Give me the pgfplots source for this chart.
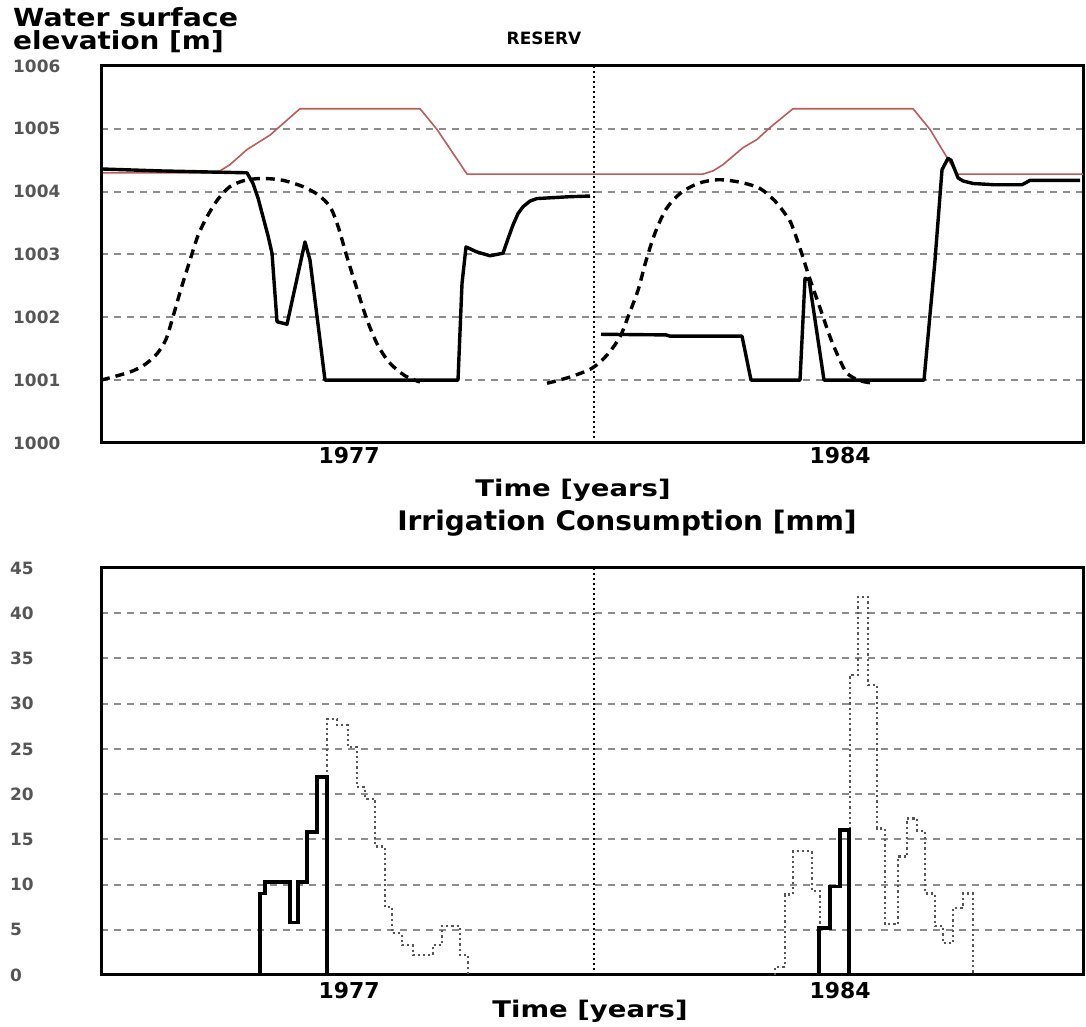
\documentclass[border=0pt]{standalone}
\usepackage{fontspec}
\setmainfont{DejaVu Sans}
\usepackage{graphicx}
\usepackage{pgfplots}
\pgfplotsset{compat=1.18}
\definecolor{resred}{RGB}{190,90,90}
\definecolor{ticklab}{RGB}{85,85,85}
\definecolor{dotgray}{RGB}{85,85,85}

\pgfplotsset{
  myaxis/.style={
    scale only axis, anchor=south west,
    xmin=101, xmax=1083,
    axis line style={line width=3bp, black},
    xtick={349,840}, xticklabels={1977,1984},
    major tick length=0pt,
    ymajorgrids,
    major grid style={black!45, line width=2bp, dash pattern=on 7bp off 6bp},
    xticklabel style={font=\fontsize{22}{22}\selectfont\bfseries, anchor=north, inner sep=0pt, yshift=-4bp},
    yticklabel style={font=\fontsize{17}{17}\selectfont\bfseries, text=ticklab, anchor=west, inner sep=0pt},
    no markers,
  }
}

\begin{document}
\begin{tikzpicture}[x=1bp,y=1bp]
\path (0,0) rectangle (1086,1027);

% ---------------- top axis ----------------
\begin{axis}[myaxis,
  at={(101bp,584bp)}, width=982bp, height=377bp,
  ymin=1000, ymax=1006,
  ytick={1000,1001,1002,1003,1004,1005,1006},
  yticklabels={1000,1001,1002,1003,1004,1005,1006},
  yticklabel style={xshift=-88bp},
]
\addplot[black, line width=2bp, dash pattern=on 2bp off 3bp] coordinates {(594,1000) (594,1006)};
% red line
\addplot[resred, line width=1.6bp] coordinates {
(103,1004.30) (217,1004.30) (230,1004.43) (247,1004.67) (260,1004.80) (270,1004.90)
(280,1005.04) (300,1005.32) (420,1005.32) (437,1004.99) (467,1004.28) (703,1004.28)
(713,1004.33) (723,1004.43) (743,1004.70) (757,1004.83) (770,1005.02) (793,1005.32)
(913,1005.32) (930,1004.99) (957,1004.28) (1083,1004.28)};
% black solid 1977
\addplot[black, line width=3.4bp, line join=round] coordinates {
(103,1004.36) (160,1004.33) (247,1004.30) (253,1004.13) (258,1003.90) (263,1003.60)
(268,1003.30) (272,1003.02) (277,1001.93) (287,1001.89) (305,1003.20) (310,1002.91)
(325,1001.0) (458,1001.0) (462,1002.54) (466,1003.12) (477,1003.04) (490,1002.98)
(503,1003.02) (508,1003.25) (513,1003.47) (518,1003.65) (523,1003.76) (530,1003.85)
(537,1003.89) (570,1003.92) (590,1003.93)};
% black solid 1984
\addplot[black, line width=3.4bp, line join=round] coordinates {
(601,1001.73) (666,1001.72) (670,1001.70) (742,1001.70) (751,1001.0) (800,1001.0)
(805,1002.62) (809,1002.60) (824,1001.0) (924,1001.0) (935,1002.91) (942,1004.35)
(948,1004.53) (951,1004.50) (958,1004.22) (963,1004.17) (973,1004.13) (994,1004.11)
(1022,1004.11) (1030,1004.18) (1080,1004.18)};
% dashed 1977
\addplot[black, line width=3.4bp, dash pattern=on 9bp off 6bp, smooth] coordinates {
(101,1001.0) (130,1001.13) (145,1001.25) (157,1001.42) (166,1001.65) (173,1002.01)
(181,1002.45) (190,1002.91) (198,1003.30) (207,1003.60) (218,1003.88) (230,1004.08)
(245,1004.18) (263,1004.21) (283,1004.18) (303,1004.08) (318,1003.95) (330,1003.76)
(338,1003.45) (347,1002.96) (357,1002.45) (367,1001.96) (378,1001.55) (390,1001.27)
(405,1001.07) (420,1000.97)};
% dashed 1984
\addplot[black, line width=3.4bp, dash pattern=on 9bp off 6bp, smooth] coordinates {
(547,1000.95) (570,1001.05) (592,1001.19) (607,1001.40) (620,1001.69) (629,1002.05)
(638,1002.43) (646,1002.90) (655,1003.34) (666,1003.72) (680,1003.97) (698,1004.13)
(718,1004.19) (740,1004.15) (760,1004.05) (775,1003.85) (785,1003.65) (791,1003.50)
(800,1003.10) (809,1002.65) (820,1002.15) (830,1001.69) (839,1001.35) (847,1001.11)
(860,1000.99) (875,1000.95)};
\end{axis}

% ---------------- bottom axis ----------------
\begin{axis}[myaxis,
  at={(101bp,52bp)}, width=982bp, height=407bp,
  ymin=0, ymax=45,
  ytick={0,5,10,15,20,25,30,35,40,45},
  yticklabels={0,5,10,15,20,25,30,35,40,45},
  yticklabel style={xshift=-91bp},
  xticklabel style={yshift=-3bp},
]
\addplot[black, line width=2bp, dash pattern=on 2bp off 3bp] coordinates {(594,0) (594,45)};
% dotted 1977
\addplot[dotgray, line width=2.2bp, dash pattern=on 2.2bp off 3bp] coordinates {
(327,21.9) (327,28.3) (337,28.3) (337,27.6) (348,27.6) (348,25.2) (357,25.2) (357,20.8)
(365,20.8) (365,19.5) (375,19.5) (375,14.2) (385,14.2) (385,7.5) (392,7.5) (392,4.6)
(402,4.6) (402,3.3) (413,3.3) (413,2.2) (433,2.2) (433,3.3) (442,3.3) (442,5.4)
(460,5.4) (460,2.2) (468,2.2) (468,0)};
% dotted 1984
\addplot[dotgray, line width=2.2bp, dash pattern=on 2.2bp off 3bp] coordinates {
(775,0) (775,0.9) (785,0.9) (785,8.9) (793,8.9) (793,13.7) (812,13.7) (812,9.3)
(820,9.3) (820,5.2) (830,5.2) (830,9.8) (840,9.8) (840,16.0) (850,16.0) (850,33.2)
(858,33.2) (858,41.8) (868,41.8) (868,32.1) (877,32.1) (877,16.2) (885,16.2) (885,5.6)
(898,5.6) (898,13.1) (907,13.1) (907,17.3) (917,17.3) (917,15.9) (925,15.9) (925,9.0)
(935,9.0) (935,5.4) (943,5.4) (943,3.5) (953,3.5) (953,7.4) (963,7.4) (963,9.0)
(973,9.0) (973,0)};
% solid 1977
\addplot[black, line width=3.6bp, line join=miter] coordinates {
(260,0) (260,9.0) (265,9.0) (265,10.3) (290,10.3) (290,5.8) (298,5.8) (298,10.3)
(307,10.3) (307,15.8) (317,15.8) (317,21.9) (327,21.9) (327,0)};
% solid 1984
\addplot[black, line width=3.6bp, line join=miter] coordinates {
(819,0) (819,5.2) (830,5.2) (830,9.8) (840,9.8) (840,16.0) (849,16.0) (849,0)};
\end{axis}

% ---------------- texts ----------------
\node[anchor=base west, inner sep=0pt, font=\fontsize{25}{25}\selectfont\bfseries] at (13,1000) {\scalebox{1.14}[1]{Water surface}};
\node[anchor=base west, inner sep=0pt, font=\fontsize{25}{25}\selectfont\bfseries] at (13,977) {\scalebox{1.12}[1]{elevation [m]}};
\node[anchor=base, inner sep=0pt, font=\fontsize{17}{17}\selectfont\bfseries] at (544,982) {RESERV};
\node[anchor=base, inner sep=0pt, font=\fontsize{23}{23}\selectfont\bfseries] at (573,530) {\scalebox{1.2}[1]{Time [years]}};
\node[anchor=base, inner sep=0pt, font=\fontsize{27}{27}\selectfont\bfseries] at (627,496) {\scalebox{1.04}[1]{Irrigation Consumption [mm]}};
\node[anchor=base, inner sep=0pt, font=\fontsize{23}{23}\selectfont\bfseries] at (590,9) {\scalebox{1.2}[1]{Time [years]}};
\end{tikzpicture}
\end{document}
